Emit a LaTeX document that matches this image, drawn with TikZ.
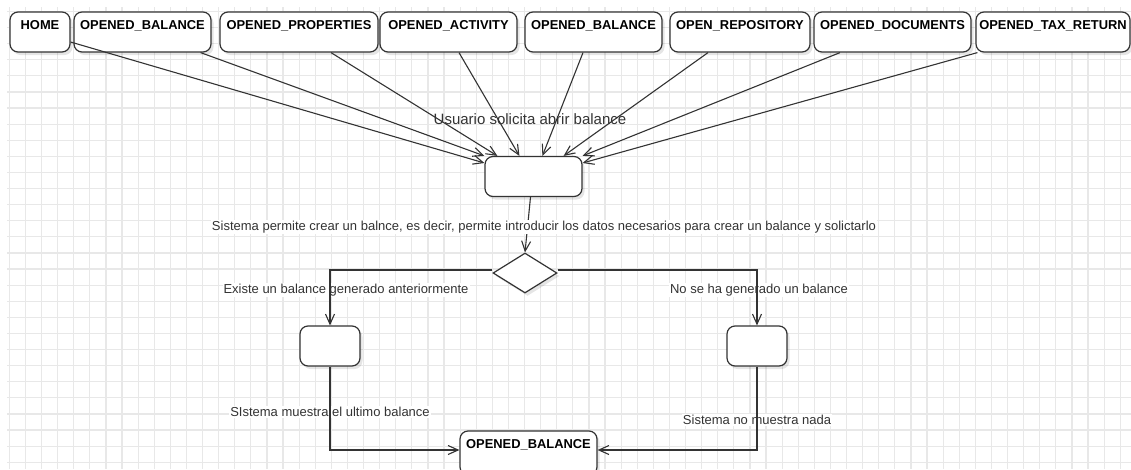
\documentclass[tikz,border=0pt]{standalone}
\usepackage{fontspec}
\setmainfont{Liberation Sans}
\usetikzlibrary{arrows.meta,shapes.geometric,shadows}
\definecolor{ink}{HTML}{333333}
\definecolor{gridc}{HTML}{E8E8E8}

\begin{document}
\begin{tikzpicture}[x=1pt,y=-1pt,
  softshadow/.style={drop shadow={shadow xshift=2.5pt, shadow yshift=-3pt, opacity=0.10, fill=black}},
  statebox/.style={draw=ink, line width=1.2pt, fill=white, rounded corners=8pt,
    inner sep=0pt, minimum height=40pt, softshadow},
  topbox/.style={statebox, font=\fontsize{12.9}{15}\selectfont\bfseries,
    text height=17.5pt, text depth=22.5pt},
  choice/.style={diamond, draw=ink, line width=1.2pt, fill=white, inner sep=0pt,
    minimum width=64pt, minimum height=40pt, aspect=1.6, softshadow},
  edge/.style={draw=ink, line width=1.1pt, -{Straight Barb[length=10pt,width=9pt,line width=1.1pt]}},
  lbl/.style={text=ink, font=\fontsize{13}{15.6}\selectfont, inner sep=1pt},
  gridline/.style={draw=gridc, line width=1.2pt}]

% canvas and clipping frame
\path[use as bounding box, clip] (0,0) rectangle (1131,469);
\fill[white] (0,0) rectangle (1131,469);

% background grid
\foreach \i in {0,...,69} \draw[gridline] ({9.3+16.1*\i},7) -- ({9.3+16.1*\i},469);
\foreach \j in {0,...,28} \draw[gridline] (7,{11.4+16.1*\j}) -- (1131,{11.4+16.1*\j});

% source states
\node[topbox, minimum width=60pt]  (home)  at (40,32)     {HOME};
\node[topbox, minimum width=137pt] (bal1)  at (142.5,32)  {OPENED\_BALANCE};
\node[topbox, minimum width=158pt] (props) at (299,32)    {OPENED\_PROPERTIES};
\node[topbox, minimum width=137pt] (act)   at (448.5,32)  {OPENED\_ACTIVITY};
\node[topbox, minimum width=137pt] (bal2)  at (593.5,32)  {OPENED\_BALANCE};
\node[topbox, minimum width=140pt] (repo)  at (740,32)    {OPEN\_REPOSITORY};
\node[topbox, minimum width=157pt] (docs)  at (892.5,32)  {OPENED\_DOCUMENTS};
\node[topbox, minimum width=154pt] (tax)   at (1053,32)   {OPENED\_TAX\_RETURN};

% flow states
\node[statebox, minimum width=97pt] (req)   at (533.5,176.5) {};
\node[choice]                       (dec)   at (525,273)     {};
\node[statebox, minimum width=60pt] (lbox)  at (330,346)     {};
\node[statebox, minimum width=60pt] (rbox)  at (757,346)     {};
\node[topbox, minimum width=137pt, text depth=26.5pt, minimum height=44pt] (final) at (528.5,453) {OPENED\_BALANCE};

% texts behind the connectors
\node[lbl, font=\fontsize{15}{18}\selectfont] (ask) at (530,119) {Usuario solicita abrir balance};
\node[lbl, fill=white] (yes)  at (346,290) {Existe un balance generado anteriormente};
\node[lbl, fill=white] (no)   at (759,290) {No se ha generado un balance};
\node[lbl, fill=white] (show) at (330,412) {SIstema muestra el ultimo balance};
\node[lbl, fill=white] (none) at (757,420) {Sistema no muestra nada};

% incoming transitions
\draw[edge] ([yshift=-10pt]home.east)        -- ([yshift=13.5pt]req.west);
\draw[edge] ([xshift=-11pt]bal1.south east)  -- (req.north west);
\draw[edge] ([xshift=32pt]props.south)       -- ([xshift=13pt]req.north west);
\draw[edge] ([xshift=10.5pt]act.south)       -- ([xshift=35pt]req.north west);
\draw[edge] ([xshift=-10.5pt]bal2.south)     -- ([xshift=58pt]req.north west);
\draw[edge] ([xshift=-32pt]repo.south)       -- ([xshift=-19pt]req.north east);
\draw[edge] ([xshift=-52.5pt]docs.south)     -- (req.north east);
\draw[edge] ([xshift=2pt]tax.south west)     -- ([yshift=13.5pt]req.east);

% decision flow
\draw[edge] ([xshift=-3pt]req.south) -- (dec.north);
\draw[edge] ([yshift=3pt]dec.west) -| (lbox.north);
\draw[edge] ([yshift=3pt]dec.east) -| (rbox.north);
\draw[edge] (lbox.south) |- ([yshift=3pt]final.west);
\draw[edge] (rbox.south) |- ([yshift=3pt]final.east);

% label over the connector
\node[lbl, fill=white] (allow) at (544,227) {Sistema permite crear un balnce, es decir, permite introducir los datos necesarios para crear un balance y solictarlo};
\end{tikzpicture}
\end{document}
